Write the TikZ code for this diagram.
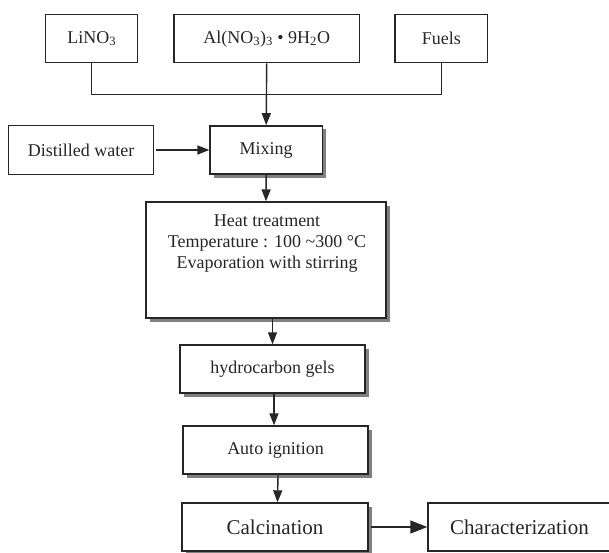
\documentclass[tikz,border=0pt]{standalone}
\usepackage{fontspec}
\setmainfont{Liberation Serif}
\usetikzlibrary{arrows.meta,shadows}
\begin{document}
\begin{tikzpicture}[x=1pt,y=-1pt,
  box/.style={draw=black!85, line width=1.4pt, fill=white, inner sep=0pt,
    font=\fontsize{18}{21}\selectfont, text=black!85},
  sbox/.style={box, drop shadow={shadow xshift=3.5pt,shadow yshift=-3.5pt,fill=black!50,opacity=1}},
  bigbox/.style={box, font=\fontsize{21}{25}\selectfont},
  arr/.style={draw=black!85, line width=1.4pt, -{Triangle[length=12pt,width=9pt]}},
  bigarr/.style={draw=black!85, line width=1.4pt, -{Triangle[length=17pt,width=13pt]}},
  ln/.style={draw=black!85, line width=1.4pt}]
\useasboundingbox (0,0) rectangle (609,552);
\clip (0,0) rectangle (609,552);

% top row
\node[box, minimum width=92pt, minimum height=48pt] (lino) at (91.7,38.7) {LiNO\textsubscript{3}};
\node[box, minimum width=185.3pt, minimum height=48pt] (al) at (266.7,38.7) {Al(NO\textsubscript{3})\textsubscript{3} • 9H\textsubscript{2}O};
\node[box, minimum width=92.7pt, minimum height=48pt] (fuels) at (441.3,38.7) {Fuels};
\coordinate (j) at (266.7,94.3);

% second row
\node[box, minimum width=145.4pt, minimum height=48.6pt] (water) at (81,150) {Distilled water};
\node[sbox, minimum width=112.3pt, minimum height=48.3pt] (mix) at (266.2,150) {Mixing};

% heat treatment
\node[sbox, minimum width=240pt, minimum height=116pt] (heat) at (266,260) {};
\node[font=\fontsize{18}{21}\selectfont, text=black!85, align=center, anchor=north, inner sep=0pt] (heattext) at (267,214.5)
  {Heat treatment\\Temperature : 100 \textasciitilde300 °C\\Evaporation with stirring};

\node[sbox, minimum width=185pt, minimum height=48pt] (gels) at (272.5,369) {hydrocarbon gels};
\node[sbox, minimum width=185pt, minimum height=48pt] (auto) at (275.5,450) {Auto ignition};
\node[sbox, bigbox, minimum width=186pt, minimum height=48pt] (calc) at (275,527) {Calcination};
\node[bigbox, minimum width=192pt, minimum height=48pt, text width=180pt, align=left, inner sep=0pt] (char) at (524,527) {\hspace*{16pt}Characterization};

% connectors
\draw[ln] (lino.south) |- (j) -| (fuels.south);
\draw[arr] (al.south) -- (mix.north);
\draw[arr] ([xshift=2pt]water.east) -- (mix.west);
\draw[arr] (mix.south) -- (heat.north);
\draw[arr] (gels.north |- heat.south) -- (gels.north);
\draw[arr] ([xshift=1.5pt]gels.south) -- ([xshift=-1.5pt]auto.north);
\draw[arr] ([xshift=2.5pt]auto.north |- auto.south) -- ([xshift=2.5pt]calc.north);
\draw[bigarr] ([xshift=2pt]calc.east) -- (char.west);
\end{tikzpicture}
\end{document}
